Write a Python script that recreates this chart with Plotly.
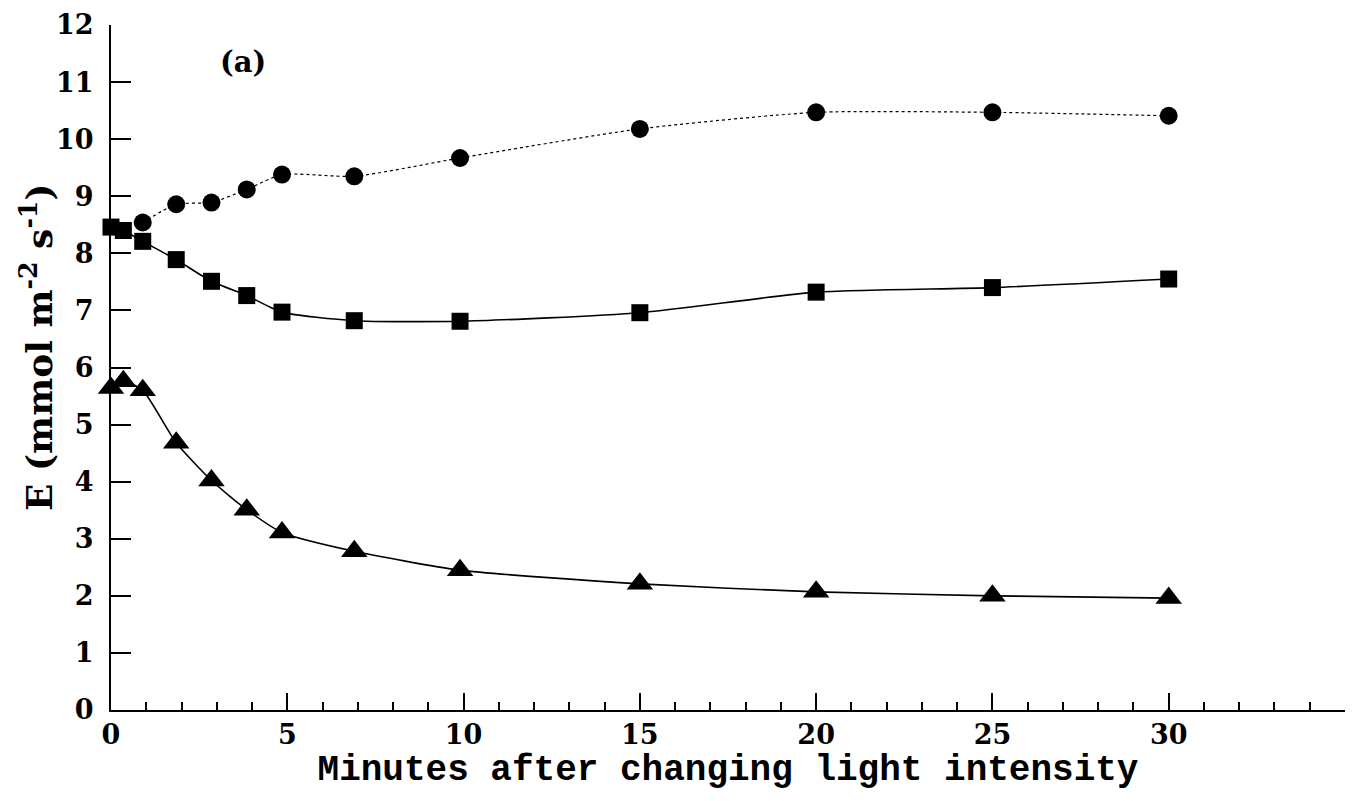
import plotly.graph_objects as go

# Minutes after changing light intensity
minutes = [0, 0.35, 0.9, 1.85, 2.85, 3.85, 4.85, 6.9, 9.9, 15, 20, 25, 30]
circle_minutes = [0.9, 1.85, 2.85, 3.85, 4.85, 6.9, 9.9, 15, 20, 25, 30]

circles = [8.54, 8.86, 8.89, 9.12, 9.38, 9.35, 9.67, 10.18, 10.47, 10.47, 10.41]
squares = [8.46, 8.40, 8.21, 7.89, 7.51, 7.26, 6.97, 6.82, 6.81, 6.96, 7.32, 7.40, 7.55]
triangles = [5.64, 5.76, 5.60, 4.68, 4.02, 3.51, 3.11, 2.78, 2.45, 2.21, 2.07, 2.00, 1.96]

x_major = [0, 5, 10, 15, 20, 25, 30, 35]
x_major_labels = ["0", "5", "10", "15", "20", "25", "30", ""]
x_minor = list(range(0, 36))
y_ticks = list(range(0, 13))

serif = "DejaVu Serif"

fig = go.Figure()

fig.add_trace(go.Scatter(
    x=circle_minutes, y=circles, mode="lines+markers",
    line=dict(color="black", width=1.2, dash="dot", shape="spline", smoothing=0.6),
    marker=dict(symbol="circle", size=18, color="black"),
    cliponaxis=False, showlegend=False))

fig.add_trace(go.Scatter(
    x=minutes, y=squares, mode="lines+markers",
    line=dict(color="black", width=1.6, shape="spline", smoothing=0.6),
    marker=dict(symbol="square", size=17, color="black"),
    cliponaxis=False, showlegend=False))

fig.add_trace(go.Scatter(
    x=minutes, y=triangles, mode="lines+markers",
    line=dict(color="black", width=1.6, shape="spline", smoothing=0.6),
    marker=dict(symbol="triangle-up", size=23, color="black"),
    cliponaxis=False, showlegend=False))

fig.add_annotation(text="(a)", x=3.73, y=11.35, xref="x", yref="y",
                   showarrow=False,
                   font=dict(family=serif, size=29, color="black", weight="bold"))

fig.add_annotation(text="E (mmol m<sup>-2</sup> s<sup>-1</sup>)",
                   xref="paper", yref="paper", x=-0.06, y=0.53,
                   xanchor="center", yanchor="middle", textangle=-90,
                   showarrow=False, borderpad=0,
                   font=dict(family=serif, size=36, color="black", weight="bold"))

fig.update_layout(
    width=1354, height=793,
    margin=dict(l=103, r=17, t=17, b=91),
    paper_bgcolor="white", plot_bgcolor="white",
    font=dict(family=serif, color="black"),
)

fig.update_xaxes(
    range=[0, 35], showgrid=False, zeroline=False, automargin=False,
    showline=True, linecolor="black", linewidth=2,
    tickmode="array", tickvals=x_major, ticktext=x_major_labels,
    ticks="inside", ticklen=17, tickwidth=1.5, tickcolor="black",
    tickfont=dict(family=serif, size=27, color="black", weight="bold"),
    minor=dict(tickmode="array", tickvals=x_minor, ticks="inside",
               ticklen=8, tickwidth=1.5, tickcolor="black", showgrid=False),
    title=dict(text="Minutes after changing light intensity",
               font=dict(family="Liberation Mono", size=36, color="black",
                         weight="bold"),
               standoff=4),
)

fig.update_yaxes(
    range=[0, 12], showgrid=False, zeroline=False, automargin=False,
    showline=True, linecolor="black", linewidth=2,
    tickmode="array", tickvals=y_ticks,
    ticks="inside", ticklen=20, tickwidth=1.5, tickcolor="black",
    ticklabelstandoff=10,
    tickfont=dict(family=serif, size=27, color="black", weight="bold"),
)

fig.write_html("out.html")
